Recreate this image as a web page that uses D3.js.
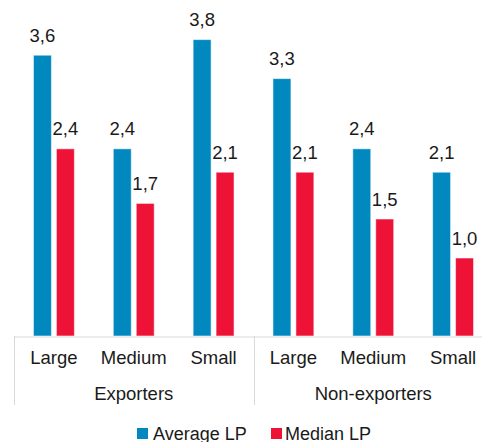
<!DOCTYPE html>
<html>
<head>
<meta charset="utf-8">
<script src="https://cdn.jsdelivr.net/npm/d3@7"></script>
<style>
  html, body { margin: 0; padding: 0; background: #fff; }
  svg { display: block; }
  text { font-family: "Liberation Sans", Arial, sans-serif; fill: #1a1a1a; }
</style>
</head>
<body>
<svg id="chart" width="482" height="442"></svg>
<script>
// Labour productivity by exporter status and firm size
const groups = ["Exporters", "Non-exporters"];
const sizes = ["Large", "Medium", "Small"];
const seriesNames = ["Average LP", "Median LP"];
const averageLP = [3.6, 2.4, 3.8, 3.3, 2.4, 2.1];
const medianLP = [2.4, 1.7, 2.1, 2.1, 1.5, 1.0];
const colors = ["#0088bf", "#ee1236"];

const categories = groups.flatMap(g => sizes.map(s => g + "|" + s));
const rows = categories.map((c, i) => ({ key: c, values: [averageLP[i], medianLP[i]] }));

const svg = d3.select("#chart");
const left = 14, right = 493, base = 336;

const x0 = d3.scaleBand().domain(categories).range([left, right]).padding(0);
const x1 = d3.scaleBand().domain(seriesNames).range([0, x0.bandwidth()])
  .paddingInner(0.217).paddingOuter(0.848);
const y = d3.scaleLinear().domain([0, 4]).range([base, 24]);

const fmt = v => d3.format(".1f")(v).replace(".", ",");

// bars
const cat = svg.append("g").selectAll("g").data(rows).join("g")
  .attr("transform", d => `translate(${x0(d.key)},0)`);

cat.selectAll("rect").data(d => d.values.map((v, j) => ({ v, s: seriesNames[j], j })))
  .join("rect")
  .attr("x", d => x1(d.s))
  .attr("y", d => y(d.v))
  .attr("width", x1.bandwidth())
  .attr("height", d => y(0) - y(d.v))
  .attr("fill", d => colors[d.j])
  .attr("stroke", "#ffffff")
  .attr("stroke-opacity", 0.55)
  .attr("stroke-width", 1);

// value labels
cat.selectAll("text.val").data(d => d.values.map((v, j) => ({ v, s: seriesNames[j] })))
  .join("text")
  .attr("class", "val")
  .attr("x", d => x1(d.s) + x1.bandwidth() / 2)
  .attr("y", d => y(d.v) - 13.5)
  .attr("text-anchor", "middle")
  .style("font-size", "18.5px")
  .text(d => fmt(d.v));

// category axis
const axis = svg.append("g")
  .attr("transform", `translate(0,${base + 0.5})`)
  .call(d3.axisBottom(x0).tickSize(0).tickPadding(0).tickFormat(d => d.split("|")[1]));
axis.select(".domain").attr("stroke", "#d9d9d9").attr("stroke-width", 1);
axis.selectAll(".tick text")
  .attr("y", 27.5).attr("dy", null)
  .style("font-size", "18.5px")
  .style("font-family", "\"Liberation Sans\", Arial, sans-serif")
  .attr("fill", "#1a1a1a");

// group separators and group labels
const groupEdges = [0, sizes.length, categories.length].map(i =>
  i < categories.length ? x0(categories[i]) : x0(categories[i - 1]) + x0.bandwidth());
svg.append("g").selectAll("line").data(groupEdges).join("line")
  .attr("x1", d => Math.round(d) + 0.5).attr("x2", d => Math.round(d) + 0.5)
  .attr("y1", base).attr("y2", 405)
  .attr("stroke", "#d9d9d9").attr("stroke-width", 1);

svg.append("g").selectAll("text").data(groups).join("text")
  .attr("x", (g, i) => (groupEdges[i] + groupEdges[i + 1]) / 2)
  .attr("y", 400)
  .attr("text-anchor", "middle")
  .style("font-size", "18.5px")
  .text(g => g);

// legend
const legendX = [137, 271];
const lg = svg.append("g").selectAll("g").data(seriesNames).join("g")
  .attr("transform", (d, i) => `translate(${legendX[i]},428)`);
lg.append("rect").attr("width", 11).attr("height", 11).attr("fill", (d, i) => colors[i]);
lg.append("text").attr("x", (d, i) => i === 0 ? 16 : 14).attr("y", 12)
  .style("font-size", "18px").text(d => d);
</script>
</body>
</html>
